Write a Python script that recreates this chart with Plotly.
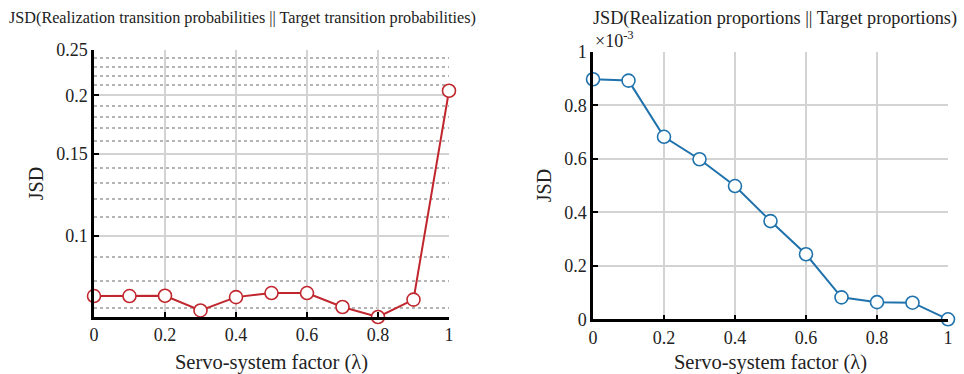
import plotly.graph_objects as go
import numpy as np

# Servo-system factor values (shared x axis)
lam = [0.0, 0.1, 0.2, 0.3, 0.4, 0.5, 0.6, 0.7, 0.8, 0.9, 1.0]

# JSD between realization and target transition probabilities
jsd_transition = [0.0744, 0.0744, 0.0745, 0.0693, 0.0740, 0.0755, 0.0755, 0.0705, 0.0671, 0.0731, 0.2045]

# JSD between realization and target proportions (x 1e-3)
jsd_proportion = [0.897, 0.892, 0.682, 0.598, 0.498, 0.367, 0.243, 0.082, 0.064, 0.062, 0.0]

x_ticks = [0, 0.2, 0.4, 0.6, 0.8, 1]
x_tick_text = ["0", "0.2", "0.4", "0.6", "0.8", "1"]
left_ticks = [0.1, 0.15, 0.2, 0.25]
left_tick_text = ["0.1", "0.15", "0.2", "0.25"]
left_minor = [0.07, 0.08, 0.09, 0.11, 0.12, 0.13, 0.14, 0.16, 0.17, 0.18, 0.19,
              0.21, 0.22, 0.23, 0.24]
right_ticks = [0, 0.2, 0.4, 0.6, 0.8, 1]
right_tick_text = ["0", "0.2", "0.4", "0.6", "0.8", "1"]

FONT = "Liberation Serif"
RED = "#c0262d"
BLUE = "#1f72ac"
GRID = "#d3d3d3"
TXT = "#222222"

fig = go.Figure()

fig.add_trace(go.Scatter(
    x=lam, y=jsd_transition, mode="lines+markers",
    line=dict(color=RED, width=2),
    marker=dict(symbol="circle", size=13, color="white", line=dict(color=RED, width=1.6)),
    xaxis="x", yaxis="y", showlegend=False, cliponaxis=False,
))
fig.add_trace(go.Scatter(
    x=lam, y=jsd_proportion, mode="lines+markers",
    line=dict(color=BLUE, width=2),
    marker=dict(symbol="circle", size=13, color="white", line=dict(color=BLUE, width=1.6)),
    xaxis="x2", yaxis="y2", showlegend=False, cliponaxis=False,
))

common_x = dict(
    range=[0, 1], tickmode="array", tickvals=x_ticks, ticktext=x_tick_text,
    showgrid=True, gridcolor=GRID, gridwidth=2,
    showline=True, linecolor="black", linewidth=2.5, mirror=False,
    ticks="inside", ticklen=5, tickcolor="black", tickwidth=2,
    zeroline=False, automargin=False,
    tickfont=dict(family=FONT, size=18, color=TXT),
    title=dict(text="Servo-system factor (λ)", font=dict(family=FONT, size=20.5, color=TXT), standoff=12),
)

common_y = dict(
    showgrid=True, gridcolor=GRID, gridwidth=2,
    showline=True, linecolor="black", linewidth=2.5,
    ticks="inside", ticklen=5, tickcolor="black", tickwidth=2,
    zeroline=False, automargin=False,
    tickfont=dict(family=FONT, size=18, color=TXT),
    title=dict(text="JSD", font=dict(family=FONT, size=20, color=TXT), standoff=8),
)

fig.update_layout(
    width=964, height=374,
    margin=dict(l=0, r=0, t=0, b=0),
    paper_bgcolor="white", plot_bgcolor="white",
    font=dict(family=FONT, color=TXT),
    xaxis=dict(common_x, domain=[94 / 964, 449 / 964], anchor="y"),
    xaxis2=dict(common_x, domain=[593 / 964, 948 / 964], anchor="y2"),
    yaxis=dict(
        common_y, type="log", domain=[1 - 317 / 374, 1 - 50 / 374], anchor="x",
        range=[np.log10(0.0671), np.log10(0.25)],
        tickmode="array", tickvals=left_ticks, ticktext=left_tick_text,
        minor=dict(tickmode="array", tickvals=left_minor, showgrid=True,
                   gridcolor="#b4b4b4", griddash="dot", gridwidth=1.5, ticks=""),
    ),
    yaxis2=dict(
        common_y, domain=[1 - 319.3 / 374, 1 - 51.7 / 374], anchor="x2",
        range=[0, 1],
        tickmode="array", tickvals=right_ticks, ticktext=right_tick_text,
    ),
    annotations=[
        dict(text="JSD(Realization transition probabilities || Target transition probabilities)",
             x=242 / 964, y=1 - 18 / 374, xref="paper", yref="paper",
             xanchor="center", yanchor="middle", showarrow=False,
             font=dict(family=FONT, size=16.2, color=TXT)),
        dict(text="JSD(Realization proportions || Target proportions)",
             x=775 / 964, y=1 - 19 / 374, xref="paper", yref="paper",
             xanchor="center", yanchor="middle", showarrow=False,
             font=dict(family=FONT, size=18.2, color=TXT)),
        dict(text="×10<sup>-3</sup>",
             x=593 / 964, y=1 - 40 / 374, xref="paper", yref="paper",
             xanchor="left", yanchor="middle", showarrow=False,
             font=dict(family=FONT, size=18, color=TXT)),
    ],
)

fig.write_html("out.html")
